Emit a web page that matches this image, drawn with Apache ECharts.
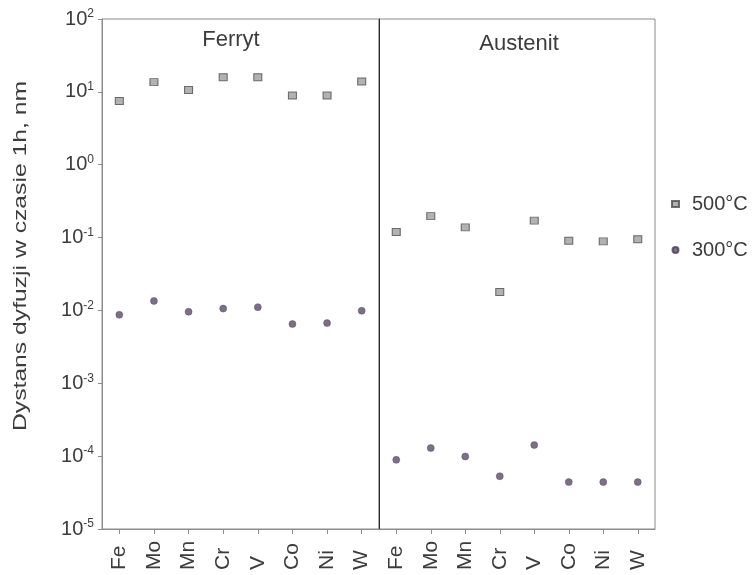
<!DOCTYPE html>
<html>
<head>
<meta charset="utf-8">
<script src="https://cdn.jsdelivr.net/npm/echarts@6/dist/echarts.min.js"></script>
<style>
  html, body { margin: 0; padding: 0; background: #ffffff; }
  #chart { width: 754px; height: 575px; }
</style>
</head>
<body>
<div id="chart"></div>
<script>
// Alloying elements along the x axis (same order in both phases)
const elements = ['Fe', 'Mo', 'Mn', 'Cr', 'V', 'Co', 'Ni', 'W'];

// Diffusion distance after 1 h, nm
const ferrite500 = [7.5, 13.6, 10.6, 15.9, 15.9, 8.9, 8.9, 13.9];
const ferrite300 = [0.0087, 0.0135, 0.0096, 0.0106, 0.0111, 0.0065, 0.0067, 0.0099];
const austenite500 = [0.119, 0.197, 0.138, 0.0179, 0.171, 0.0905, 0.0887, 0.095];
const austenite300 = [8.9e-5, 1.29e-4, 9.9e-5, 5.3e-5, 1.42e-4, 4.4e-5, 4.4e-5, 4.4e-5];

const phaseTitles = ['Ferryt', 'Austenit'];
const seriesNames = ['500°C', '300°C'];
const yTitle = 'Dystans dyfuzji w czasie 1h, nm';
const yMin = 1e-5;
const yMax = 1e2;

const FONT = '"Liberation Sans", Arial, Helvetica, sans-serif';
const TEXT = '#3c3c3c';
const FRAME = '#8c8c8c';

const chart = echarts.init(document.getElementById('chart'), null, { renderer: 'canvas' });

function xAxisFor(gridIndex) {
  return {
    type: 'category',
    gridIndex: gridIndex,
    data: elements,
    boundaryGap: true,
    axisLine: { show: true, lineStyle: { color: FRAME, width: 1 } },
    axisTick: { show: true, alignWithLabel: true, length: 5, lineStyle: { color: FRAME } },
    axisLabel: {
      rotate: 90,
      align: 'left',
      verticalAlign: 'middle',
      margin: 41,
      interval: 0,
      fontFamily: FONT,
      fontSize: 21,
      color: TEXT
    },
    splitLine: { show: false }
  };
}

function yAxisFor(gridIndex, withLabels) {
  return {
    type: 'log',
    logBase: 10,
    gridIndex: gridIndex,
    min: yMin,
    max: yMax,
    splitNumber: 7,
    axisLine: { show: true, lineStyle: { color: withLabels ? FRAME : '#2a2a2a', width: 1 } },
    axisTick: { show: withLabels, length: 4, lineStyle: { color: FRAME } },
    minorTick: { show: false },
    splitLine: { show: false },
    axisLabel: {
      show: withLabels,
      margin: 8,
      fontFamily: FONT,
      color: TEXT,
      formatter: function (v) {
        const e = Math.round(Math.log10(v));
        return '{b|10}{s|' + e + '}';
      },
      rich: {
        b: { fontFamily: FONT, fontSize: 20, color: TEXT, lineHeight: 22 },
        s: { fontFamily: FONT, fontSize: 12, color: TEXT, verticalAlign: 'top', lineHeight: 12 }
      }
    }
  };
}

const squareStyle = { color: '#a19d9b', borderColor: '#4d4d4d', borderWidth: 1 };
const dotStyle = { color: '#5b4c68', borderColor: '#4a3d56', borderWidth: 0.5 };

chart.setOption({
  animation: false,
  backgroundColor: '#ffffff',
  grid: [
    { left: 102, top: 19, width: 277, height: 510, show: true, borderColor: FRAME, borderWidth: 1 },
    { left: 379, top: 19, width: 276, height: 510, show: true, borderColor: FRAME, borderWidth: 1 }
  ],
  xAxis: [xAxisFor(0), xAxisFor(1)],
  yAxis: [yAxisFor(0, true), yAxisFor(1, false)],
  legend: {
    orient: 'vertical',
    left: 666,
    top: 189,
    itemGap: 26,
    itemWidth: 7,
    itemHeight: 6,
    data: [
      { name: seriesNames[0], icon: 'rect' },
      { name: seriesNames[1], icon: 'circle' }
    ],
    textStyle: { fontFamily: FONT, fontSize: 20, color: TEXT, padding: [0, 0, 0, 8] }
  },
  graphic: [
    {
      type: 'text', x: 231, y: 40,
      style: { text: phaseTitles[0], font: '22px ' + FONT, fill: TEXT, align: 'center', verticalAlign: 'middle' }
    },
    {
      type: 'text', x: 519, y: 44,
      style: { text: phaseTitles[1], font: '22px ' + FONT, fill: TEXT, align: 'center', verticalAlign: 'middle' }
    },
    {
      type: 'text', x: 21, y: 256, rotation: Math.PI / 2, scaleX: 1.3,
      style: { text: yTitle, font: '19px ' + FONT, fill: TEXT, align: 'center', verticalAlign: 'middle' }
    }
  ],
  series: [
    {
      name: seriesNames[0], type: 'scatter', xAxisIndex: 0, yAxisIndex: 0,
      symbol: 'rect', symbolSize: [8, 7], itemStyle: squareStyle, data: ferrite500
    },
    {
      name: seriesNames[0], type: 'scatter', xAxisIndex: 1, yAxisIndex: 1,
      symbol: 'rect', symbolSize: [8, 7], itemStyle: squareStyle, data: austenite500
    },
    {
      name: seriesNames[1], type: 'scatter', xAxisIndex: 0, yAxisIndex: 0,
      symbol: 'circle', symbolSize: 7, itemStyle: dotStyle, data: ferrite300
    },
    {
      name: seriesNames[1], type: 'scatter', xAxisIndex: 1, yAxisIndex: 1,
      symbol: 'circle', symbolSize: 7, itemStyle: dotStyle, data: austenite300
    }
  ]
});
</script>
</body>
</html>
